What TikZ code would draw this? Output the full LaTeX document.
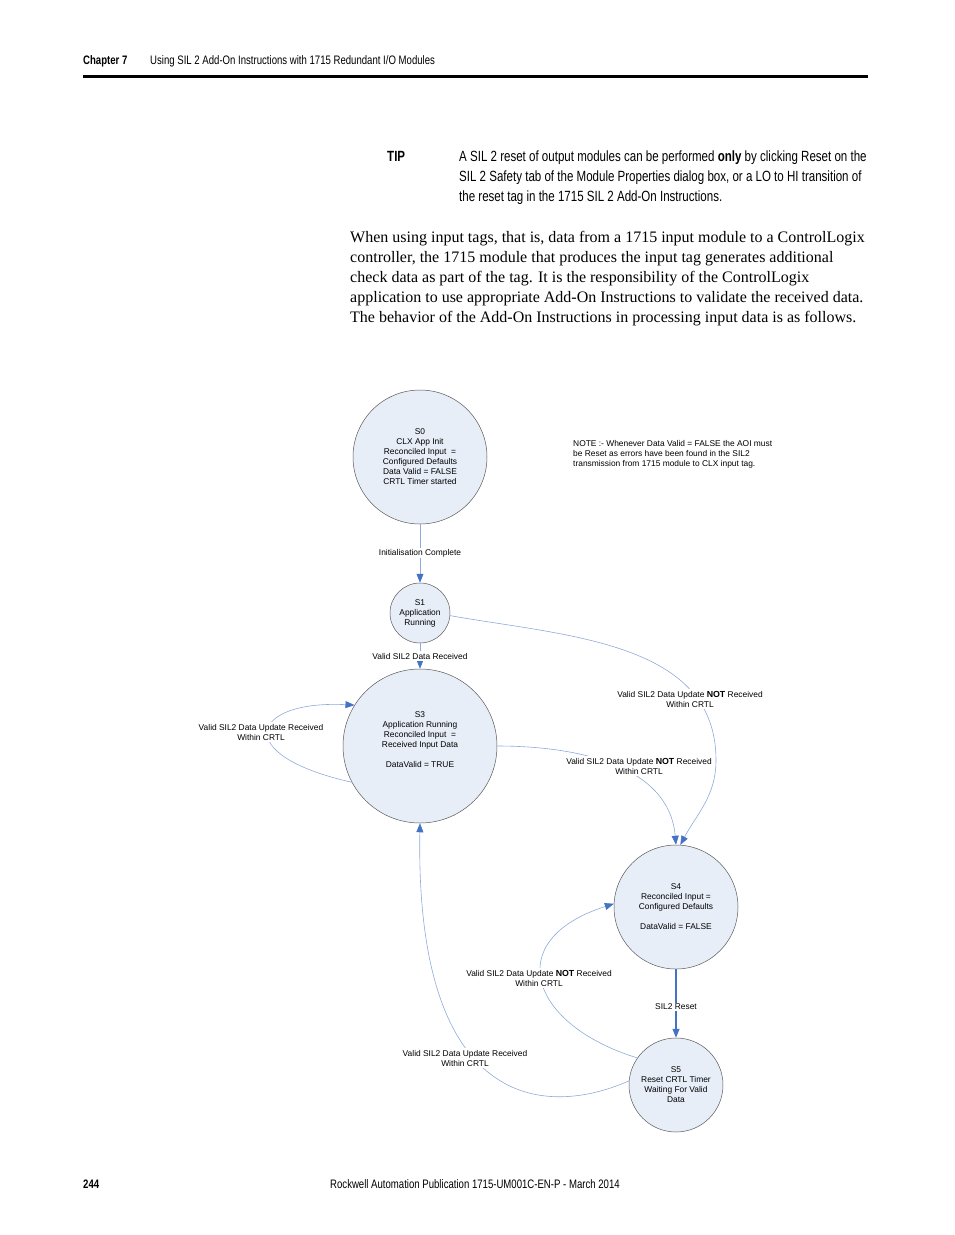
\documentclass[tikz,border=0pt]{standalone}
\usepackage{fontspec}
\setmainfont{Liberation Serif}
\newfontfamily\condfont[FakeStretch=0.78]{Liberation Sans}
\newfontfamily\diagfont{Liberation Sans}
\usetikzlibrary{arrows.meta}
\definecolor{statefill}{HTML}{E8EEF8}
\definecolor{edgeblue}{HTML}{8FAADC}
\definecolor{tipblue}{HTML}{4472C4}
\newcommand\nottxt{{\fontsize{8.8}{10}\selectfont\bfseries NOT}}
\begin{document}
\begin{tikzpicture}[x=1pt,y=-1pt,
  state/.style={circle,draw=black!65,fill=statefill,line width=0.5pt,align=center,inner sep=0pt,
    font=\diagfont\fontsize{8.4}{10}\selectfont},
  trans/.style={draw=edgeblue,line width=0.6pt,-{Triangle[length=9pt,width=7pt,color=tipblue]}},
  lbl/.style={fill=white,inner sep=1.5pt,align=center,font=\diagfont\fontsize{8.4}{10}\selectfont}]
\useasboundingbox (0,0) rectangle (954,1235);
\node[anchor=base west,inner sep=0pt,font=\condfont\bfseries\fontsize{12.3}{14}\selectfont] (chap) at (83,64) {Chapter 7};
\node[anchor=base west,inner sep=0pt,font=\condfont\fontsize{12.3}{14}\selectfont] (title) at (150,64) {Using SIL 2 Add-On Instructions with 1715 Redundant I/O Modules};
\draw[line width=3pt] (83,76)--(868,76);
\node[anchor=base west,inner sep=0pt,font=\condfont\bfseries\fontsize{14.8}{20}\selectfont] (tip) at (387,161) {TIP};
\node[anchor=north west,inner sep=0pt,align=left,font=\condfont\fontsize{14.8}{20}\selectfont] (tiptext) at (459,151)
  {A SIL 2 reset of output modules can be performed \textbf{only} by clicking Reset on the\\
   SIL 2 Safety tab of the Module Properties dialog box, or a LO to HI transition of\\
   the reset tag in the 1715 SIL 2 Add-On Instructions.};
\node[anchor=north west,inner sep=0pt,align=left,font=\fontsize{16}{20}\selectfont] (body) at (350,231)
  {When using input tags, that is, data from a 1715 input module to a ControlLogix\\
   controller, the 1715 module that produces the input tag generates additional\\
   check data as part of the tag. It is the responsibility of the ControlLogix\\
   application to use appropriate Add-On Instructions to validate the received data.\\
   The behavior of the Add-On Instructions in processing input data is as follows.};
\node[state,minimum size=134pt] (s0) at (420,457)
  {S0\\CLX App Init\\Reconciled Input\ \ =\\Configured Defaults\\Data Valid = FALSE\\CRTL Timer started};
\node[state,minimum size=60pt] (s1) at (420,613) {S1\\Application\\Running};
\node[state,minimum size=154pt] (s3) at (420,746)
  {S3\\Application Running\\Reconciled Input\ \ =\\Received Input Data\\[10pt]DataValid = TRUE\\[2pt]};
\node[state,minimum size=124pt] (s4) at (676,907)
  {S4\\Reconciled Input =\\Configured Defaults\\[10pt]DataValid = FALSE};
\node[state,minimum size=94pt] (s5) at (676,1085) {S5\\Reset CRTL Timer\\Waiting For Valid\\Data};
\node[anchor=north west,align=left,inner sep=0pt,font=\diagfont\fontsize{8.4}{10}\selectfont] (note) at (573,440)
  {NOTE :- Whenever Data Valid = FALSE the AOI must\\be Reset as errors have been found in the SIL2\\transmission from 1715 module to CLX input tag.};
\draw[trans] (s0) -- (s1);
\draw[trans] (s1) -- (s3);
\draw[trans] (s3.208) .. controls (230,755) and (250,700) .. (s3.148);
\draw[trans] (s1.-5) to[out=-10,in=90] (716,760) to[out=-90,in=62] (s4.86);
\draw[trans] (s3.east) to[out=0,in=95] (s4.north);
\draw[draw=tipblue,line width=1.1pt,-{Triangle[length=9pt,width=7pt]}] (s4) -- (s5);
\draw[trans] (s5.145) .. controls (530,1025) and (500,940) .. (s4.177);
\draw[trans] (s5.175) .. controls (545,1118) and (415,1110) .. (s3.south);
\node[lbl] (l01) at (420,553) {Initialisation Complete};
\node[lbl] (l13) at (420,656) {Valid SIL2 Data Received};
\node[lbl] (l33) at (261,732) {Valid SIL2 Data Update Received\\Within CRTL};
\node[lbl] (l14) at (690,699) {Valid SIL2 Data Update \nottxt{} Received\\Within CRTL};
\node[lbl] (l34) at (639,766) {Valid SIL2 Data Update \nottxt{} Received\\Within CRTL};
\node[lbl] (l45) at (676,1007) {SIL2 Reset};
\node[lbl] (l54) at (539,978) {Valid SIL2 Data Update \nottxt{} Received\\Within CRTL};
\node[lbl] (l53) at (465,1058) {Valid SIL2 Data Update Received\\Within CRTL};
\node[anchor=base west,inner sep=0pt,font=\condfont\bfseries\fontsize{12.3}{14}\selectfont] (page) at (83,1188) {244};
\node[anchor=base west,inner sep=0pt,font=\condfont\fontsize{12.3}{14}\selectfont] (pub) at (330,1188) {Rockwell Automation Publication 1715-UM001C-EN-P - March 2014};
\end{tikzpicture}
\end{document}
